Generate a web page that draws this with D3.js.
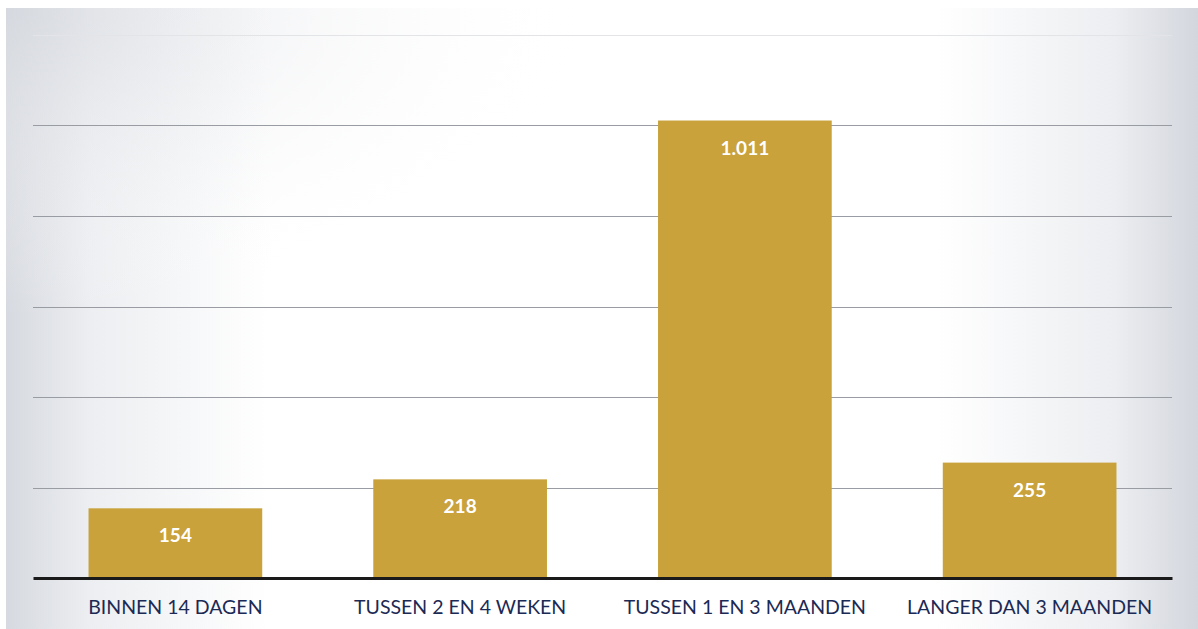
<!DOCTYPE html>
<html>
<head>
<meta charset="utf-8">
<script src="https://cdn.jsdelivr.net/npm/d3@7"></script>
<style>
  html, body { margin: 0; padding: 0; background: #ffffff; }
  svg { display: block; }
</style>
</head>
<body>
<svg id="chart" width="1198" height="629"></svg>
<script>
// Wachttijden: aantal per termijn
const categories = ["BINNEN 14 DAGEN", "TUSSEN 2 EN 4 WEKEN", "TUSSEN 1 EN 3 MAANDEN", "LANGER DAN 3 MAANDEN"];
const values = [154, 218, 1011, 255];
const valueLabels = ["154", "218", "1.011", "255"];
const gridTicks = [200, 400, 600, 800, 1000, 1200];

const W = 1198, H = 629;
const margin = { left: 33, right: 26, top: 35, bottom: 51 };

const svg = d3.select("#chart");
const defs = svg.append("defs");

// grey shading towards the left and right edges
const grad = defs.append("linearGradient")
  .attr("id", "bg").attr("x1", "0").attr("x2", "1").attr("y1", "0").attr("y2", "0");
grad.append("stop").attr("offset", "0").attr("stop-color", "#d6d9df");
grad.append("stop").attr("offset", "0.07").attr("stop-color", "#eceef1");
grad.append("stop").attr("offset", "0.22").attr("stop-color", "#ffffff");
grad.append("stop").attr("offset", "0.78").attr("stop-color", "#ffffff");
grad.append("stop").attr("offset", "0.93").attr("stop-color", "#eceef1");
grad.append("stop").attr("offset", "1").attr("stop-color", "#d3d6dd");

// slight darkening along the top-left
const gradTop = defs.append("radialGradient")
  .attr("id", "bgTop").attr("cx", "0").attr("cy", "0").attr("r", "0.5");
gradTop.append("stop").attr("offset", "0").attr("stop-color", "#d5d8de").attr("stop-opacity", 0.7);
gradTop.append("stop").attr("offset", "1").attr("stop-color", "#ffffff").attr("stop-opacity", 0);

svg.append("rect")
  .attr("x", 6).attr("y", 8)
  .attr("width", W - 6).attr("height", H - 8)
  .attr("fill", "url(#bg)");
svg.append("rect")
  .attr("x", 6).attr("y", 8)
  .attr("width", W - 6).attr("height", H - 8)
  .attr("fill", "url(#bgTop)");

const x = d3.scaleBand()
  .domain(categories)
  .range([margin.left, W - margin.right])
  .paddingInner(0.39)
  .paddingOuter(0.195);

const y = d3.scaleLinear()
  .domain([0, 1200])
  .range([H - margin.bottom, margin.top]);

// horizontal gridlines
svg.append("g")
  .selectAll("line")
  .data(gridTicks)
  .join("line")
  .attr("x1", margin.left).attr("x2", W - margin.right)
  .attr("y1", d => Math.round(y(d)) + 0.5)
  .attr("y2", d => Math.round(y(d)) + 0.5)
  .attr("stroke", d => d === 1200 ? "#e2e4e8" : "#9a9ca3")
  .attr("stroke-width", 1);

// bars
svg.append("g")
  .selectAll("rect")
  .data(values)
  .join("rect")
  .attr("x", (d, i) => x(categories[i]))
  .attr("width", x.bandwidth())
  .attr("y", d => y(d))
  .attr("height", d => y(0) - y(d))
  .attr("fill", "#c9a23b");

// value labels inside bars
svg.append("g")
  .selectAll("text")
  .data(values)
  .join("text")
  .attr("x", (d, i) => x(categories[i]) + x.bandwidth() / 2)
  .attr("y", d => y(d) + 34)
  .attr("text-anchor", "middle")
  .attr("fill", "#ffffff")
  .attr("font-family", "Lato, 'Open Sans', sans-serif")
  .attr("font-weight", "bold")
  .attr("font-size", 19)
  .text((d, i) => valueLabels[i]);

// baseline axis
const xAxis = d3.axisBottom(x).tickSize(0).tickPadding(22);
const gx = svg.append("g")
  .attr("transform", `translate(0,${y(0)})`)
  .call(xAxis);
gx.select(".domain")
  .attr("stroke", "#1a1a1a")
  .attr("stroke-width", 3);
gx.selectAll("text")
  .attr("fill", "#1b2a55")
  .attr("font-family", "Lato, 'Open Sans', sans-serif")
  .attr("font-size", 19.5);
</script>
</body>
</html>
